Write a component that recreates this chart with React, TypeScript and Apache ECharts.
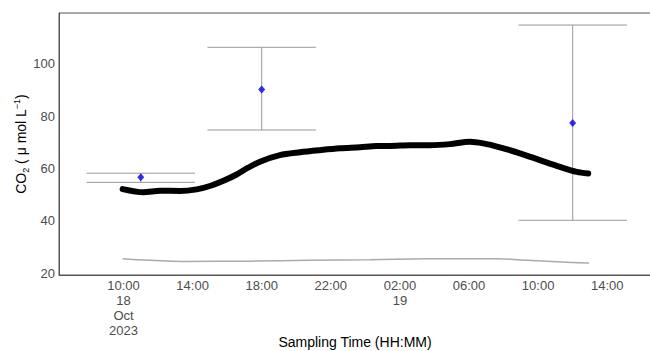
import { useEffect, useRef } from "react";
import * as echarts from "echarts";

// ---- data ----
const co2Times = [
  "2023-10-18 09:57", "2023-10-18 11:09", "2023-10-18 12:07", "2023-10-18 13:16",
  "2023-10-18 14:14", "2023-10-18 15:00", "2023-10-18 15:47", "2023-10-18 16:33",
  "2023-10-18 17:08", "2023-10-18 17:54", "2023-10-18 19:03", "2023-10-18 20:13",
  "2023-10-18 21:22", "2023-10-18 22:32", "2023-10-18 23:41", "2023-10-19 00:39",
  "2023-10-19 01:25", "2023-10-19 02:35", "2023-10-19 03:44", "2023-10-19 04:54",
  "2023-10-19 06:03", "2023-10-19 06:49", "2023-10-19 07:47", "2023-10-19 08:57",
  "2023-10-19 10:06", "2023-10-19 11:16", "2023-10-19 12:14", "2023-10-19 12:54",
];
const co2Values = [
  52.1, 50.9, 51.5, 51.4, 52.0, 53.3, 55.3, 57.7,
  60.0, 62.6, 65.1, 66.2, 67.0, 67.7, 68.1, 68.6,
  68.6, 68.9, 68.9, 69.3, 70.2, 69.6, 68.1, 65.8,
  63.2, 60.6, 58.7, 58.1,
];

const baseTimes = [
  "2023-10-18 09:57", "2023-10-18 11:32", "2023-10-18 13:28", "2023-10-18 17:19",
  "2023-10-18 20:47", "2023-10-19 00:16", "2023-10-19 03:33", "2023-10-19 07:36",
  "2023-10-19 09:20", "2023-10-19 11:39", "2023-10-19 12:57",
];
const baseValues = [25.5, 24.9, 24.5, 24.6, 24.9, 25.1, 25.5, 25.5, 24.9, 24.2, 23.9];

const sampleTimes = ["2023-10-18 11:00", "2023-10-18 18:00", "2023-10-19 12:00"];
const sampleMeans = [56.6, 90.2, 77.4];
const sampleLow = [54.7, 74.7, 40.2];
const sampleHigh = [58.2, 106.3, 114.8];

const tickTimes = [
  "2023-10-18 10:00", "2023-10-18 14:00", "2023-10-18 18:00", "2023-10-18 22:00",
  "2023-10-19 02:00", "2023-10-19 06:00", "2023-10-19 10:00", "2023-10-19 14:00",
];
const tickLabels = [
  "10:00\n18\nOct\n2023", "14:00", "18:00", "22:00", "02:00\n19", "06:00", "10:00", "14:00",
];

const xMinTime = "2023-10-18 06:16";
const xMaxTime = "2023-10-19 16:32";
const yMin = 19.3;
const yMax = 119.4;

// ---- helpers ----
const ts = (s: string) => {
  const [d, t] = s.split(" ");
  const [Y, M, D] = d.split("-").map(Number);
  const [h, m] = t.split(":").map(Number);
  return Date.UTC(Y, M - 1, D, h, m);
};
const HOUR = 3600 * 1000;
const CAP_HALF = 3.14 * HOUR;
const FONT = "'Liberation Sans', Arial, sans-serif";

export default function App() {
  const ref = useRef<HTMLDivElement>(null);
  useEffect(() => {
    if (!ref.current) return;
    const chart = echarts.init(ref.current, null, { renderer: "svg" });
    const tickVals = tickTimes.map(ts);
    const labelMap: Record<number, string> = {};
    tickVals.forEach((v, i) => (labelMap[v] = tickLabels[i]));

    chart.setOption({
      animation: false,
      textStyle: { fontFamily: FONT },
      grid: {
        left: 59,
        top: 13,
        right: -1,
        bottom: 76,
        containLabel: false,
        outerBoundsMode: "none",
        show: true,
        borderColor: "#555",
        borderWidth: 1,
        backgroundColor: "transparent",
      },
      xAxis: {
        type: "value",
        min: ts(xMinTime),
        max: ts(xMaxTime),
        axisLine: { show: true, lineStyle: { color: "#555", width: 1 } },
        axisTick: { show: false },
        splitLine: { show: false },
        axisLabel: {
          customValues: tickVals,
          formatter: (v: number) => labelMap[v] ?? "",
          color: "#4d4d4d",
          fontSize: 13,
          lineHeight: 15,
          margin: 3,
          fontFamily: FONT,
        },
        name: "Sampling Time (HH:MM)",
        nameLocation: "middle",
        nameGap: 60,
        nameMoveOverlap: false,
        nameTextStyle: { color: "#000", fontSize: 14, fontFamily: FONT },
      },
      yAxis: {
        type: "value",
        min: yMin,
        max: yMax,
        splitNumber: 5,
        axisLine: { show: true, lineStyle: { color: "#555", width: 1 } },
        axisTick: { show: false },
        splitLine: { show: false },
        axisLabel: {
          showMinLabel: false,
          showMaxLabel: false,
          formatter: (v: number) => (Math.abs(v / 20 - Math.round(v / 20)) < 1e-6 ? String(v) : ""),
          color: "#4d4d4d",
          fontSize: 13,
          margin: 4,
          fontFamily: FONT,
        },
        name: "{a|CO}{s|2}{a| ( μ mol L}{p|−1}{a|)}",
        nameLocation: "middle",
        nameRotate: 90,
        nameGap: 29,
        nameMoveOverlap: false,
        nameTextStyle: {
          color: "#000",
          fontSize: 14,
          fontFamily: FONT,
          rich: {
            a: { fontSize: 14, lineHeight: 18, color: "#000", fontFamily: FONT },
            s: { fontSize: 9, lineHeight: 9, verticalAlign: "bottom", color: "#000", fontFamily: FONT },
            p: { fontSize: 9, lineHeight: 9, verticalAlign: "top", color: "#000", fontFamily: FONT },
          },
        },
      },
      series: [
        {
          type: "custom",
          name: "errorbars",
          data: sampleTimes.map((t, i) => [ts(t), sampleLow[i], sampleHigh[i]]),
          encode: { x: 0, y: [1, 2] },
          renderItem: (_params: any, api: any) => {
            const x = api.value(0);
            const lo = api.value(1);
            const hi = api.value(2);
            const pLo = api.coord([x, lo]);
            const pHi = api.coord([x, hi]);
            const l = api.coord([x - CAP_HALF, lo])[0];
            const r = api.coord([x + CAP_HALF, lo])[0];
            const style = { stroke: "#999", lineWidth: 1 };
            return {
              type: "group",
              children: [
                { type: "line", shape: { x1: pLo[0], y1: pLo[1], x2: pHi[0], y2: pHi[1] }, style },
                { type: "line", shape: { x1: l, y1: pHi[1], x2: r, y2: pHi[1] }, style },
                { type: "line", shape: { x1: l, y1: pLo[1], x2: r, y2: pLo[1] }, style },
              ],
            };
          },
          z: 1,
        },
        {
          type: "line",
          name: "baseline",
          data: baseTimes.map((t, i) => [ts(t), baseValues[i]]),
          showSymbol: false,
          smooth: true,
          lineStyle: { color: "#aaaaaa", width: 1.5 },
          z: 2,
        },
        {
          type: "line",
          name: "CO2",
          data: co2Times.map((t, i) => [ts(t), co2Values[i]]),
          showSymbol: false,
          smooth: 0.3,
          lineStyle: { color: "#000", width: 6, join: "round", cap: "round" },
          z: 3,
        },
        {
          type: "scatter",
          name: "samples",
          data: sampleTimes.map((t, i) => [ts(t), sampleMeans[i]]),
          symbol: "diamond",
          symbolSize: [7, 8],
          itemStyle: { color: "#0000ee" },
          z: 4,
        },
      ],
    });
    return () => chart.dispose();
  }, []);
  return (
    <div
      ref={ref}
      style={{ position: "fixed", left: 0, top: 0, width: 650, height: 351, background: "#fff" }}
    />
  );
}
